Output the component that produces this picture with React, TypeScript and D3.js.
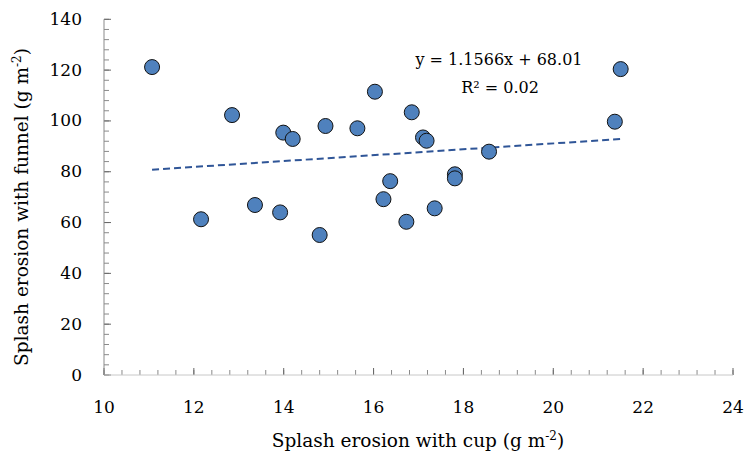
import React from "react";
import * as d3 from "d3";

const cupValues = [11.07, 12.16, 12.85, 13.36, 13.92, 13.99, 14.2, 14.8, 14.93, 15.64, 16.03, 16.22, 16.37, 16.73, 16.85, 17.1, 17.18, 17.36, 17.81, 17.81, 18.57, 21.37, 21.5];
const funnelValues = [121.2, 61.3, 102.3, 66.9, 64.0, 95.4, 92.9, 55.1, 98.0, 97.1, 111.5, 69.2, 76.3, 60.3, 103.4, 93.5, 92.2, 65.6, 79.0, 77.4, 87.9, 99.7, 120.4];
const xTicks = [10, 12, 14, 16, 18, 20, 22, 24];
const yTicks = [0, 20, 40, 60, 80, 100, 120, 140];
const slope = 1.1566;
const intercept = 68.01;
const equationLabel = "y = 1.1566x + 68.01";
const r2Label = "R² = 0.02";

const W = 746;
const H = 457;
const FONT = "DejaVu Serif";

export default function App() {
  const x = d3.scaleLinear().domain([10, 24]).range([104, 733]);
  const y = d3.scaleLinear().domain([0, 140]).range([375, 19.3]);

  const xMinor = d3.range(10, 24.0001, 0.4).map((v) => +v.toFixed(2));
  const yMinor = d3.range(0, 140.0001, 4);

  const xMin = d3.min(cupValues) as number;
  const xMax = d3.max(cupValues) as number;
  const trend = d3.line<number>().x((v) => x(v)).y((v) => y(slope * v + intercept));

  const axisLine = "#c8c8c8";
  const tickColor = "#8a8a8a";
  const ts = { fontFamily: FONT } as React.CSSProperties;

  return (
    <svg width={W} height={H} style={{ position: "absolute", left: 0, top: 0, background: "#fff" }}>
      <rect x={0} y={0} width={W} height={H} fill="#fff" />
      {xMinor.map((v, i) => (
        <line key={"xm" + i} x1={x(v)} x2={x(v)} y1={375} y2={370} stroke={tickColor} strokeWidth={1} />
      ))}
      {yMinor.map((v, i) => (
        <line key={"ym" + i} x1={104} x2={109} y1={y(v)} y2={y(v)} stroke={tickColor} strokeWidth={1} />
      ))}
      {xTicks.map((v) => (
        <line key={"xt" + v} x1={x(v)} x2={x(v)} y1={375} y2={368} stroke="#666" strokeWidth={1} />
      ))}
      {yTicks.map((v) => (
        <line key={"yt" + v} x1={104} x2={111} y1={y(v)} y2={y(v)} stroke="#666" strokeWidth={1} />
      ))}
      <line x1={104} x2={733} y1={375} y2={375} stroke={axisLine} strokeWidth={1} />
      <line x1={104} x2={104} y1={19.3} y2={375} stroke={tickColor} strokeWidth={1} />

      {xTicks.map((v) => (
        <text key={"xl" + v} x={x(v)} y={413} textAnchor="middle" fontSize={17} fill="#000" style={ts}>
          {v}
        </text>
      ))}
      {yTicks.map((v) => (
        <text key={"yl" + v} x={82} y={y(v) + 5.5} textAnchor="end" fontSize={17} fill="#000" style={ts}>
          {v}
        </text>
      ))}

      <text x={418} y={447} textAnchor="middle" fontSize={18.5} fill="#000" style={ts}>
        Splash erosion with cup (g m
        <tspan fontSize={12} dy={-7}>-2</tspan>
        <tspan dy={7}>)</tspan>
      </text>
      <text transform="translate(28,207) rotate(-90)" textAnchor="middle" fontSize={18.5} fill="#000" style={ts}>
        Splash erosion with funnel (g m
        <tspan fontSize={12} dy={-7}>-2</tspan>
        <tspan dy={7}>)</tspan>
      </text>

      <path d={trend([xMin, xMax]) || ""} fill="none" stroke="#2F5597" strokeWidth={2} strokeDasharray="7 4" />

      {cupValues.map((v, i) => (
        <circle key={"p" + i} cx={x(v)} cy={y(funnelValues[i])} r={7.5} fill="#4F81BD" stroke="#111" strokeWidth={1} />
      ))}

      <text x={499} y={65} textAnchor="middle" fontSize={16} fill="#000" style={ts}>{equationLabel}</text>
      <text x={500} y={93} textAnchor="middle" fontSize={16} fill="#000" style={ts}>{r2Label}</text>
    </svg>
  );
}
